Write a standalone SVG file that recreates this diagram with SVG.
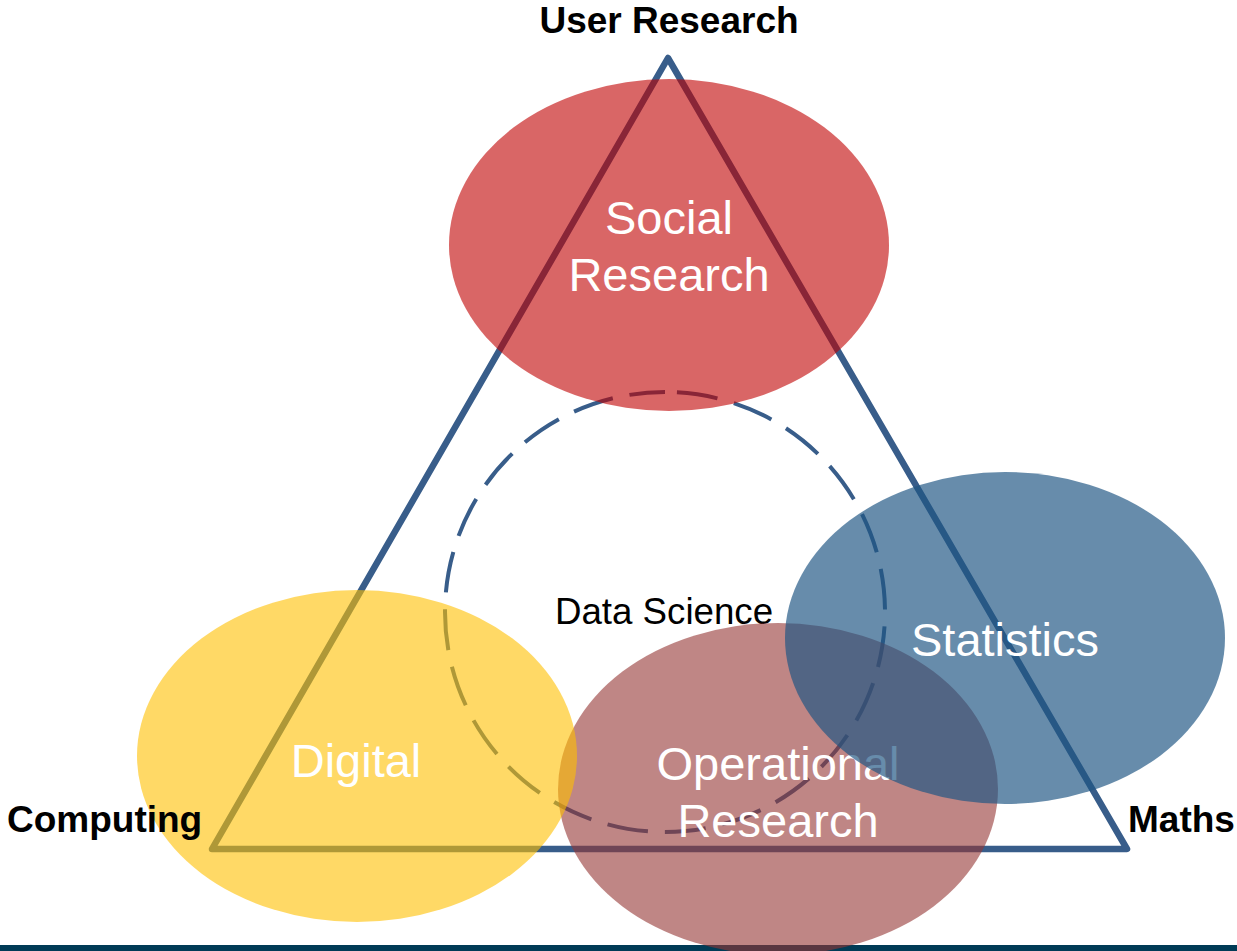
<svg xmlns="http://www.w3.org/2000/svg" width="1237" height="951" viewBox="0 0 1237 951">
<style>
.lbl{font-family:"Liberation Sans",Arial,sans-serif;font-weight:bold;font-size:37px;fill:#000}
.in{font-family:"Liberation Sans",Arial,sans-serif;font-size:47px;fill:#fff;text-anchor:middle}
.ds{font-family:"Liberation Sans",Arial,sans-serif;font-size:36.7px;fill:#000;text-anchor:middle}
.line{fill:none;stroke:#385D8A}
</style>
<rect x="0" y="0" width="1237" height="951" fill="#fff"/>
<rect id="bar" x="0" y="945" width="1237" height="6" fill="#003B56"/>
<g id="connectors">
<polygon id="triangle" class="line" points="668,58 1127,849 212,849" stroke-width="6.5" stroke-linejoin="round"/>
<path id="datascience-ring" class="line" d="M665,392 A220,220 0 1,1 665,832 A220,220 0 1,1 665,392" stroke-width="4" stroke-dasharray="41 17" stroke-dashoffset="46"/>
</g>
<g id="data-science"><text class="ds" x="664" y="624">Data Science</text></g>
<g id="social-research">
<ellipse cx="669" cy="245" rx="220" ry="166" fill="#C00000" fill-opacity="0.6"/>
<text class="in" x="669" y="234">Social</text>
<text class="in" x="669" y="291">Research</text>
</g>
<g id="operational-research">
<ellipse cx="778" cy="789" rx="220" ry="166" fill="#943634" fill-opacity="0.6"/>
<text class="in" x="778" y="780">Operational</text>
<text class="in" x="778" y="837">Research</text>
</g>
<g id="digital">
<ellipse cx="357" cy="756" rx="220" ry="166" fill="#FFC000" fill-opacity="0.6"/>
<text class="in" x="356" y="777">Digital</text>
</g>
<g id="statistics">
<ellipse cx="1005" cy="638" rx="220" ry="166" fill="#1F5583" fill-opacity="0.68"/>
<text class="in" x="1005" y="656">Statistics</text>
</g>
<g id="user-research"><text class="lbl" x="669" y="33" text-anchor="middle">User Research</text></g>
<g id="computing"><text class="lbl" x="7" y="832">Computing</text></g>
<g id="maths"><text class="lbl" x="1128" y="832">Maths</text></g>
</svg>
